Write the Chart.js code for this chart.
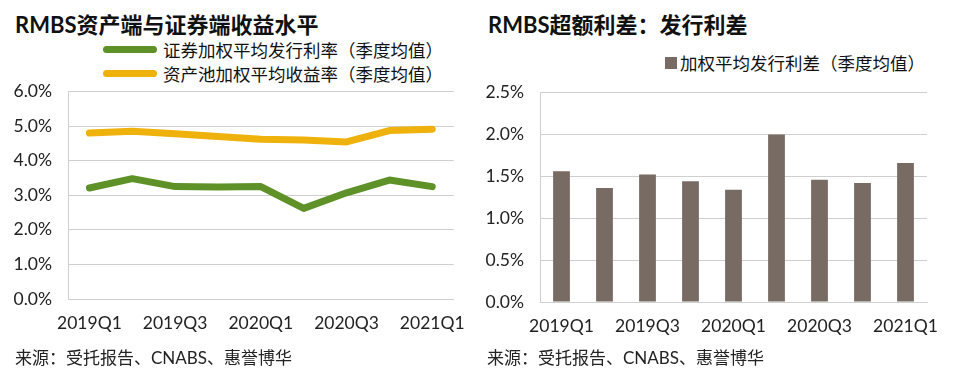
<!DOCTYPE html>
<html>
<head>
<meta charset="utf-8">
<script src="https://cdn.jsdelivr.net/npm/chart.js@4/dist/chart.umd.min.js"></script>
<style>
  body { margin: 0; background: #fff; width: 958px; height: 381px; overflow: hidden; position: relative;
         font-family: "Lato", "Noto Sans CJK SC", sans-serif; color: #222; }
  .title { position: absolute; top: 7px; font-size: 22px; font-weight: bold; color: #111; white-space: nowrap; }
  .leg { position: absolute; font-size: 17.5px; white-space: nowrap; display: flex; align-items: center; color: #111; }
  .leg i { display: inline-block; margin-right: 6px; }
  .src { position: absolute; top: 344px; font-size: 17px; color: #222; white-space: nowrap; }
  canvas { position: absolute; }
</style>
</head>
<body>
<div class="title" style="left:15px">RMBS资产端与证券端收益水平</div>
<div class="leg" style="left:103px;top:37px"><i style="width:54px;height:7px;border-radius:4px;background:#5E9128"></i>证券加权平均发行利率（季度均值）</div>
<div class="leg" style="left:103px;top:61px"><i style="width:54px;height:7px;border-radius:4px;background:#EFB10C"></i>资产池加权平均收益率（季度均值）</div>
<div class="title" style="left:488px">RMBS超额利差：发行利差</div>
<div class="leg" style="left:665px;top:50px"><i style="width:12px;height:12px;background:#776B63;margin-right:3px"></i>加权平均发行利差（季度均值）</div>
<canvas id="chartLine" style="left:0;top:65px" width="480" height="280"></canvas>
<canvas id="chartBar" style="left:480px;top:66px" width="478" height="280"></canvas>
<div class="src" style="left:15px">来源：受托报告、CNABS、惠誉博华</div>
<div class="src" style="left:487px">来源：受托报告、CNABS、惠誉博华</div>
<script>
const quarters = ["2019Q1","2019Q2","2019Q3","2019Q4","2020Q1","2020Q2","2020Q3","2020Q4","2021Q1"];
const bondRate = [3.21, 3.48, 3.25, 3.24, 3.25, 2.62, 3.07, 3.44, 3.25];
const poolYield = [4.80, 4.85, 4.78, 4.70, 4.62, 4.60, 4.54, 4.87, 4.91];
const spread = [1.56, 1.36, 1.52, 1.44, 1.34, 2.00, 1.46, 1.42, 1.66];

const el = (id) => document.getElementById(id);
const tickFont = { family: "Lato, 'Noto Sans CJK SC'", size: 17.5 };
const gridCol = "#cfcfcf";

const xAxis = (h) => ({
  offset: true,
  grid: { display: false, drawTicks: false },
  border: { display: true, color: gridCol },
  ticks: { color: "#222", font: tickFont, padding: 14, autoSkip: false, maxRotation: 0,
           callback: (v, i) => (i % 2 === 0 ? quarters[i] : "") },
  afterFit: (s) => { s.height = h; },
});
const yAxis = (w, max, step, dec) => ({
  min: 0, max: max,
  grid: { color: gridCol, drawTicks: false },
  border: { display: true, color: gridCol },
  ticks: { color: "#222", font: tickFont, padding: 16, stepSize: step,
           callback: (v) => v.toFixed(dec) + "%" },
  afterFit: (s) => { s.width = w; },
});

Chart.defaults.animation = false;
Chart.defaults.responsive = false;

new Chart(el("chartLine").getContext("2d"), {
  type: "line",
  data: {
    labels: quarters,
    datasets: [
      { label: "证券加权平均发行利率（季度均值）", data: bondRate, borderColor: "#5E9128",
        borderWidth: 7, pointRadius: 0, tension: 0, borderCapStyle: "round", borderJoinStyle: "round" },
      { label: "资产池加权平均收益率（季度均值）", data: poolYield, borderColor: "#EFB10C",
        borderWidth: 7, pointRadius: 0, tension: 0, borderCapStyle: "round", borderJoinStyle: "round" },
    ],
  },
  options: {
    layout: { padding: { left: 0, right: 25, top: 10, bottom: 0 } },
    plugins: { legend: { display: false }, tooltip: { enabled: false } },
    scales: { x: xAxis(46), y: yAxis(68, 6, 1, 1) },
  },
});

new Chart(el("chartBar").getContext("2d"), {
  type: "bar",
  data: {
    labels: quarters,
    datasets: [
      { label: "加权平均发行利差（季度均值）", data: spread, backgroundColor: "#776B63",
        barPercentage: 0.39, categoryPercentage: 1 },
    ],
  },
  options: {
    layout: { padding: { left: 0, right: 31, top: 11, bottom: 0 } },
    plugins: { legend: { display: false }, tooltip: { enabled: false } },
    scales: { x: xAxis(44), y: yAxis(60, 2.5, 0.5, 1) },
  },
});
</script>
</body>
</html>
